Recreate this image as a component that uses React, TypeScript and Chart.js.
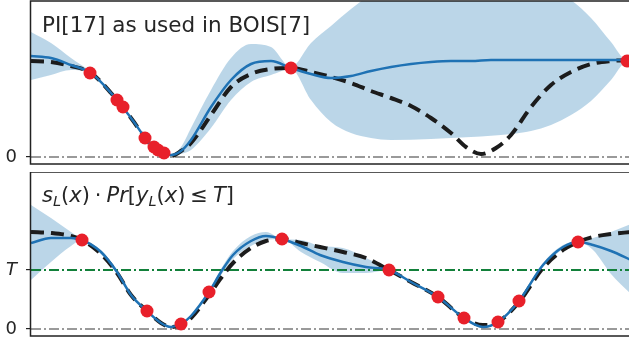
import React, { useEffect, useRef } from "react";
import { Chart, registerables } from "chart.js";
Chart.register(...registerables);

const X_MIN = 0;
const X_MAX = 30;
const T_LEVEL = 0.59;

// ---- Top panel: PI[17] as used in BOIS[7] ----
const topTitle = "PI[17] as used in BOIS[7]";
const topMeanX = [0, 1, 2, 3, 4, 5, 6, 6.5, 7, 7.5, 8, 9, 10, 11, 12, 13, 14, 15, 16, 17, 18, 19, 20, 21, 22, 23, 25, 27, 29, 30];
const topMeanY = [1.01, 0.99, 0.92, 0.84, 0.64, 0.39, 0.12, 0.05, 0.02, 0.06, 0.17, 0.5, 0.77, 0.93, 0.96, 0.89, 0.83, 0.79, 0.81, 0.86, 0.9, 0.93, 0.95, 0.96, 0.96, 0.97, 0.97, 0.97, 0.97, 0.97];
const topTrueX = [0, 1, 2, 3, 4, 5, 6, 6.5, 7, 7.5, 8, 9, 10, 11, 12, 13, 14, 15, 16, 17, 18, 19, 20, 21, 21.75, 22.5, 23.25, 24, 25, 26, 27, 28, 29, 30];
const topTrueY = [0.96, 0.95, 0.91, 0.84, 0.64, 0.39, 0.12, 0.05, 0.01, 0.06, 0.14, 0.42, 0.7, 0.83, 0.88, 0.89, 0.85, 0.8, 0.74, 0.66, 0.59, 0.51, 0.39, 0.24, 0.1, 0.03, 0.09, 0.22, 0.5, 0.72, 0.85, 0.93, 0.96, 0.97];
const topBandX = [0, 1, 2, 3, 4, 5, 6, 7, 7.5, 8, 9, 10, 11, 12, 13, 14, 15, 16, 17, 18, 20, 22, 24, 25, 26, 27, 28, 29, 29.8, 30];
const topBandHi = [1.25, 1.14, 0.99, 0.85, 0.65, 0.4, 0.13, 0.03, 0.1, 0.29, 0.67, 0.99, 1.13, 1.1, 0.9, 1.14, 1.31, 1.48, 1.63, 1.77, 1.97, 2.05, 1.97, 1.87, 1.69, 1.57, 1.39, 1.15, 0.97, 1.01];
const topBandLo = [0.77, 0.82, 0.87, 0.83, 0.63, 0.38, 0.11, 0.01, 0.03, 0.07, 0.29, 0.57, 0.75, 0.82, 0.88, 0.57, 0.35, 0.24, 0.19, 0.17, 0.18, 0.2, 0.23, 0.26, 0.32, 0.42, 0.56, 0.77, 0.95, 0.93];
const topObsX = [2.95, 4.3, 4.6, 5.7, 6.15, 6.35, 6.65, 13, 29.8];
const topObsY = [0.84, 0.57, 0.5, 0.19, 0.1, 0.07, 0.04, 0.89, 0.96];

// ---- Bottom panel: s_L(x) * Pr[y_L(x) <= T] ----
const botX = [0, 1, 2, 2.55, 3.5, 4.3, 5, 5.8, 6.5, 7, 7.5, 8, 8.9, 9.5, 10.1, 11, 11.75, 12.55, 13.5, 14.45, 15.6, 16.75, 17.9, 19, 20.35, 21.65, 22.6, 23.35, 24.4, 25.6, 26.6, 27.35, 28.1, 29, 30];
const botMeanY = [0.86, 0.91, 0.91, 0.89, 0.77, 0.57, 0.34, 0.18, 0.06, 0.02, 0.05, 0.13, 0.37, 0.57, 0.74, 0.88, 0.93, 0.9, 0.83, 0.74, 0.67, 0.62, 0.59, 0.47, 0.32, 0.11, 0.02, 0.07, 0.28, 0.64, 0.82, 0.87, 0.84, 0.78, 0.69];
const botTrueY = [0.97, 0.96, 0.93, 0.89, 0.75, 0.56, 0.34, 0.18, 0.06, 0.02, 0.04, 0.11, 0.34, 0.51, 0.66, 0.81, 0.88, 0.9, 0.86, 0.82, 0.77, 0.71, 0.59, 0.47, 0.32, 0.11, 0.04, 0.07, 0.27, 0.61, 0.79, 0.87, 0.92, 0.95, 0.97];
const botBandHi = [1.24, 1.11, 0.97, 0.89, 0.79, 0.59, 0.36, 0.19, 0.07, 0.03, 0.06, 0.14, 0.38, 0.6, 0.78, 0.93, 0.97, 0.9, 0.89, 0.83, 0.81, 0.71, 0.59, 0.48, 0.33, 0.12, 0.03, 0.08, 0.29, 0.66, 0.84, 0.87, 0.91, 0.97, 1.05];
const botBandLo = [0.49, 0.67, 0.83, 0.89, 0.75, 0.55, 0.32, 0.17, 0.05, 0.01, 0.04, 0.12, 0.36, 0.54, 0.7, 0.83, 0.89, 0.9, 0.77, 0.67, 0.56, 0.56, 0.59, 0.46, 0.31, 0.1, 0.01, 0.06, 0.27, 0.62, 0.8, 0.87, 0.79, 0.55, 0.35];
const botObsX = [2.55, 5.8, 7.5, 8.9, 12.55, 17.9, 20.35, 21.65, 23.35, 24.4, 27.35];
const botObsY = [0.89, 0.18, 0.05, 0.37, 0.9, 0.59, 0.32, 0.11, 0.07, 0.28, 0.87];

const FONT = "DejaVu Sans";
const TEXT = "#262626";
const BLUE = "#1f72b4";
const BAND = "rgba(31,119,180,0.3)";
const RED = "#e8202a";

const pts = (xs: number[], ys: number[]) => xs.map((x, i) => ({ x, y: ys[i] }));

type Piece = { t: string; it?: boolean; sub?: boolean; gap?: number };
const mathTitle: Piece[] = [
  { t: "s", it: true },
  { t: "L", it: true, sub: true },
  { t: "(" },
  { t: "x", it: true },
  { t: ")" },
  { t: "·", gap: 5 },
  { t: "Pr", it: true, gap: 0 },
  { t: "[" },
  { t: "y", it: true },
  { t: "L", it: true, sub: true },
  { t: "(" },
  { t: "x", it: true },
  { t: ")" },
  { t: "≤", gap: 5 },
  { t: "T", it: true, gap: 0 },
  { t: "]" },
];

function framePlugin(title: string | null, math: Piece[] | null) {
  return {
    id: "frame",
    afterDraw(chart: any) {
      const { ctx, chartArea } = chart;
      const { left, top, right, bottom } = chartArea;
      ctx.save();
      ctx.strokeStyle = "#222";
      ctx.lineWidth = 1.5;
      ctx.strokeRect(left - 0.5, top, right - left + 10, bottom - top);
      ctx.fillStyle = TEXT;
      ctx.textBaseline = "alphabetic";
      ctx.textAlign = "left";
      if (title) {
        ctx.font = `21.5px "${FONT}"`;
        ctx.fillText(title, left + 11, top + 31);
      }
      if (math) {
        let x = left + 11;
        const base = top + 30;
        for (const p of math) {
          const size = p.sub ? 14.5 : 21;
          ctx.font = `${p.it ? "italic " : ""}${size}px "${FONT}"`;
          if (p.gap) x += p.gap;
          ctx.fillText(p.t, x, base + (p.sub ? 4 : 0));
          x += ctx.measureText(p.t).width;
          if (p.gap) x += p.gap;
        }
      }
      ctx.restore();
    },
  };
}

function makeConfig(opts: {
  meanX: number[]; meanY: number[]; trueX: number[]; trueY: number[];
  bandX: number[]; bandHi: number[]; bandLo: number[];
  obsX: number[]; obsY: number[]; yMax: number; withT: boolean;
  title: string | null; math: Piece[] | null; padTop: number;
}) {
  const datasets: any[] = [
    {
      data: pts(opts.obsX, opts.obsY), showLine: false, pointRadius: 6.5,
      pointBackgroundColor: RED, pointBorderWidth: 0, pointHoverRadius: 6.5,
    },
    {
      data: pts(opts.meanX, opts.meanY), showLine: true, borderColor: BLUE, borderWidth: 2.5,
      pointRadius: 0, cubicInterpolationMode: "monotone", fill: false,
    },
    {
      data: pts(opts.trueX, opts.trueY), showLine: true, borderColor: "#1c1c1c", borderWidth: 4,
      borderDash: [13, 7], pointRadius: 0, cubicInterpolationMode: "monotone", fill: false,
    },
    {
      data: [{ x: X_MIN, y: 0 }, { x: X_MAX, y: 0 }], showLine: true, borderColor: "#9a9a9a",
      borderWidth: 2, borderDash: [10, 3, 2, 3], pointRadius: 0, fill: false,
    },
  ];
  if (opts.withT) {
    datasets.push({
      data: [{ x: X_MIN, y: T_LEVEL }, { x: X_MAX, y: T_LEVEL }], showLine: true, borderColor: "#12803a",
      borderWidth: 2, borderDash: [10, 3, 2, 3], pointRadius: 0, fill: false,
    });
  }
  datasets.push(
    {
      data: pts(opts.bandX, opts.bandHi), showLine: true, borderWidth: 0, borderColor: "rgba(0,0,0,0)",
      backgroundColor: BAND, pointRadius: 0, cubicInterpolationMode: "monotone", fill: "+1",
    },
    {
      data: pts(opts.bandX, opts.bandLo), showLine: true, borderWidth: 0, borderColor: "rgba(0,0,0,0)",
      pointRadius: 0, cubicInterpolationMode: "monotone", fill: false,
    }
  );
  const tickVals = opts.withT ? [0, T_LEVEL] : [0];
  return {
    type: "scatter",
    data: { datasets },
    options: {
      animation: false,
      responsive: false,
      devicePixelRatio: 1,
      events: [],
      layout: { autoPadding: false, padding: { top: opts.padTop, bottom: 2, left: 0, right: 9 } },
      plugins: { legend: { display: false }, tooltip: { enabled: false } },
      scales: {
        x: { type: "linear", min: X_MIN, max: X_MAX, display: false },
        y: {
          type: "linear", min: -0.07, max: opts.yMax,
          afterFit: (s: any) => { s.width = 31; s.paddingTop = 0; s.paddingBottom = 0; },
          afterBuildTicks: (s: any) => { s.ticks = tickVals.map((v) => ({ value: v })); },
          grid: { display: true, drawOnChartArea: false, drawTicks: true, tickLength: 5, color: "#222", lineWidth: 1.2 },
          border: { display: false },
          ticks: {
            padding: 9, color: TEXT,
            font: (c: any) => ({ family: FONT, size: 18, style: c.tick && c.tick.value === T_LEVEL ? "italic" : "normal" }),
            callback: (v: number) => (v === T_LEVEL ? "T" : "0"),
          },
        },
      },
    },
    plugins: [framePlugin(opts.title, opts.math)],
  } as any;
}

export default function App() {
  const topRef = useRef<HTMLCanvasElement>(null);
  const botRef = useRef<HTMLCanvasElement>(null);
  useEffect(() => {
    document.body.style.margin = "0";
    document.body.style.overflow = "hidden";
    const c1 = new Chart(topRef.current as HTMLCanvasElement, makeConfig({
      meanX: topMeanX, meanY: topMeanY, trueX: topTrueX, trueY: topTrueY,
      bandX: topBandX, bandHi: topBandHi, bandLo: topBandLo,
      obsX: topObsX, obsY: topObsY, yMax: 1.56, withT: false,
      title: topTitle, math: null, padTop: 1,
    }));
    const c2 = new Chart(botRef.current as HTMLCanvasElement, makeConfig({
      meanX: botX, meanY: botMeanY, trueX: botX, trueY: botTrueY,
      bandX: botX, bandHi: botBandHi, bandLo: botBandLo,
      obsX: botObsX, obsY: botObsY, yMax: 1.57, withT: true,
      title: null, math: mathTitle, padTop: 0,
    }));
    return () => { c1.destroy(); c2.destroy(); };
  }, []);
  return (
    <div style={{ position: "absolute", left: 0, top: 0, width: 629, height: 343, overflow: "hidden", background: "#fff" }}>
      <canvas ref={topRef} width={640} height={166} style={{ position: "absolute", left: 0, top: 0 }} />
      <canvas ref={botRef} width={640} height={166} style={{ position: "absolute", left: 0, top: 172 }} />
    </div>
  );
}
